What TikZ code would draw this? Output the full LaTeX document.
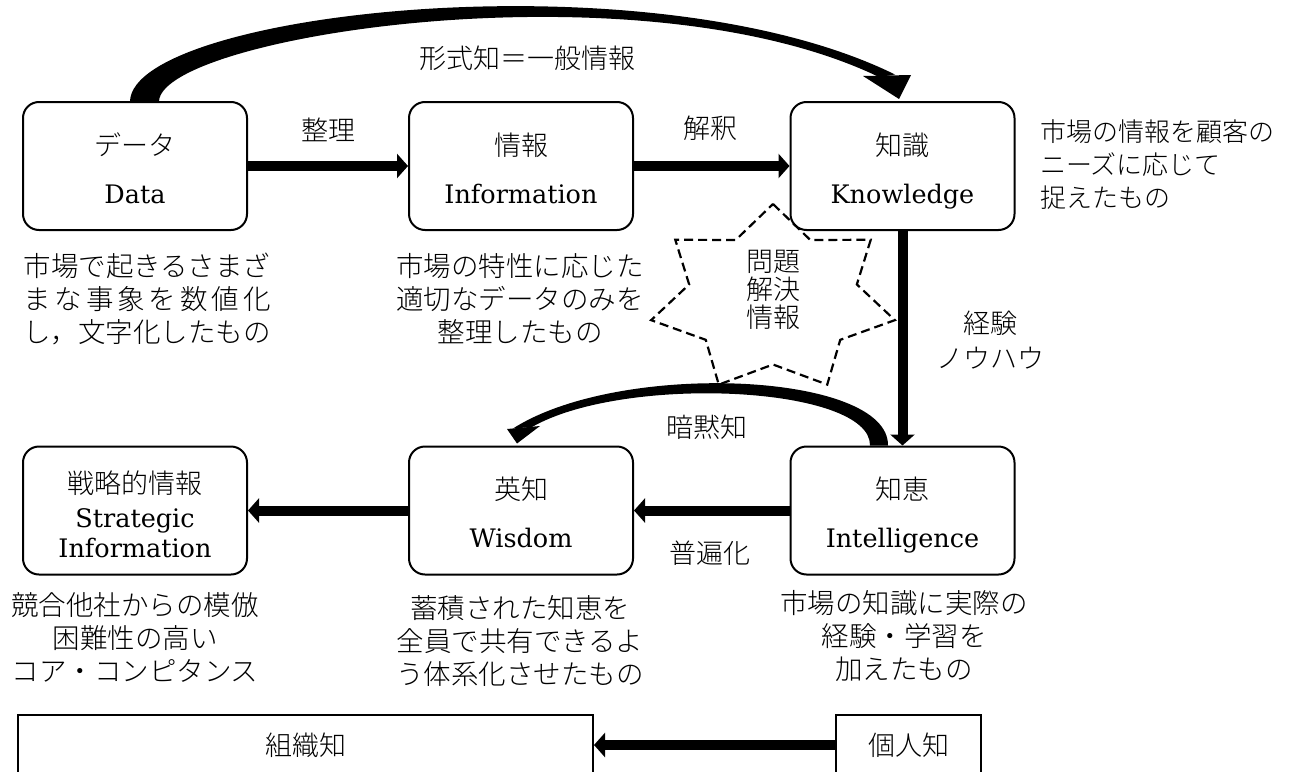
\documentclass[tikz,border=0pt]{standalone}
\usepackage{fontspec}
\setmainfont{DejaVu Serif}
\newfontfamily\jp{Noto Sans CJK JP}[UprightFont={* Light}]
\usetikzlibrary{arrows.meta,calc}

\newcommand{\jpsize}{\fontsize{27}{36}\selectfont\jp}
\newcommand{\twoline}[2]{\rule{0pt}{33.6pt}{\jpsize #1}\\[12pt]#2\rule[-7pt]{0pt}{7pt}}

\tikzset{
  box/.style={draw, line width=2pt, rounded corners=16pt, minimum width=224pt, minimum height=128pt, align=center, font=\fontsize{25.5}{36}\selectfont},
  flat/.style={draw, line width=2pt, minimum height=60pt, font=\fontsize{27}{33}\selectfont\jp},
  desc/.style={align=center, inner sep=0pt, font=\fontsize{27.5}{33}\selectfont\jp, execute at begin node=\strut, execute at end node=\strut},
  lbl/.style={inner sep=0pt, font=\fontsize{27}{33}\selectfont\jp},
  flow/.style={line width=10pt, -{Triangle[length=11pt,width=24pt]}},
}

\begin{document}
\begin{tikzpicture}[x=1pt,y=-1pt]
  \useasboundingbox (0,0) rectangle (1290,771);
  \clip (0,0) rectangle (1290,771);

  % top row
  \node[box] (data) at (135,166) {\twoline{データ}{Data}};
  \node[box] (info) at (521,166) {\twoline{情報}{Information}};
  \node[box] (know) at (902.5,166) {\twoline{知識}{Knowledge}};

  % bottom row
  \node[box, font=\fontsize{25.5}{30}\selectfont] (strat) at (135,510.5) {\rule{0pt}{36.6pt}{\jpsize 戦略的情報}\\[4pt]Strategic\\Information\rule[-7pt]{0pt}{7pt}};
  \node[box] (wisdom) at (521,510.5) {\twoline{英知}{Wisdom}};
  \node[box] (intel) at (902.5,510.5) {\twoline{知恵}{Intelligence}};

  % organisation / person
  \node[flat, minimum width=575pt] (org) at (305.5,745) {組織知};
  \node[flat, minimum width=145pt] (person) at (908.5,745) {個人知};

  % descriptions
  \node[desc] (ddata) at (147,303) {市場で起きるさまざ\\\makebox[9em]{ま\hfill な\hfill 事\hfill 象\hfill を\hfill 数\hfill 値\hfill 化}\\し，文字化したもの};
  \node[desc] (dinfo) at (520,303) {市場の特性に応じた\\適切なデータのみを\\整理したもの};
  \node[desc, align=left, anchor=west, font=\fontsize{26}{33}\selectfont\jp] (dknow) at (1040,169) {市場の情報を顧客の\\ニーズに応じて\\捉えたもの};
  \node[desc] (dstrat) at (135,642) {競合他社からの模倣\\困難性の高い\\コア・コンピタンス};
  \node[desc] (dwisdom) at (520,645) {蓄積された知恵を\\全員で共有できるよ\\う体系化させたもの};
  \node[desc] (dintel) at (904,640) {市場の知識に実際の\\経験・学習を\\加えたもの};

  % arrow labels
  \node[lbl] (lsort) at (328,130) {整理};
  \node[lbl] (linterp) at (710,128) {解釈};
  \node[lbl] (lexplicit) at (527,58) {形式知＝一般情報};
  \node[lbl, align=center, font=\fontsize{27}{35}\selectfont\jp] (lexp) at (990,340.5) {経験\\ノウハウ};
  \node[lbl] (ltacit) at (707,427) {暗黙知};
  \node[lbl] (lgeneral) at (710,553) {普遍化};

  % problem solving star
  \coordinate (starc) at (773,299);
  \node[lbl, align=center, font=\fontsize{27}{28}\selectfont\jp] (problem) at (773,290) {問題\\解決\\情報};
  \draw[line width=2.2pt, dash pattern=on 9pt off 5pt, shift={(starc)}] (-90:125 and 95)
    \foreach \k in {0,...,6} { -- ({-90+(\k+0.5)*360/7}:86 and 65.5) -- ({-90+(\k+1)*360/7}:125 and 95) };

  % straight flows
  \draw[flow] (data) -- (info);
  \draw[flow] (info) -- (know);
  \draw[flow] (know) -- (intel);
  \draw[flow] (intel) -- (wisdom);
  \draw[flow] (wisdom) -- (strat);
  \draw[flow] (person) -- (org);

  % curved arrow data -> knowledge
  \fill ($(data.north)+(-5,0)$) .. controls (134,12) and (650,-46) .. ($(know.north)+(-7.5,-26.5)$)
    -- ($(know.north)+(-23.5,-24)$) .. controls (640,-38) and (163,36) .. ($(data.north)+(24,0)$) -- cycle;
  \fill ($(know.north)+(-39.5,-25)$) -- ($(know.north)+(8.5,-26)$) -- ($(know.north)+(-3.5,-2)$) -- cycle;

  % curved arrow intelligence -> wisdom
  \fill ($(intel.north)+(-14.5,0)$) .. controls (889,372) and (620,360) .. ($(wisdom.north)+(-8,-17)$)
    -- ($(wisdom.north)+(11,-18.5)$) .. controls (625,374) and (871,386) .. ($(intel.north)+(-32.5,0)$) -- cycle;
  \fill ($(wisdom.north)+(-14,-16.5)$) -- ($(wisdom.north)+(19,-19.5)$) -- ($(wisdom.north)+(-4,-2)$) -- cycle;
\end{tikzpicture}
\end{document}
